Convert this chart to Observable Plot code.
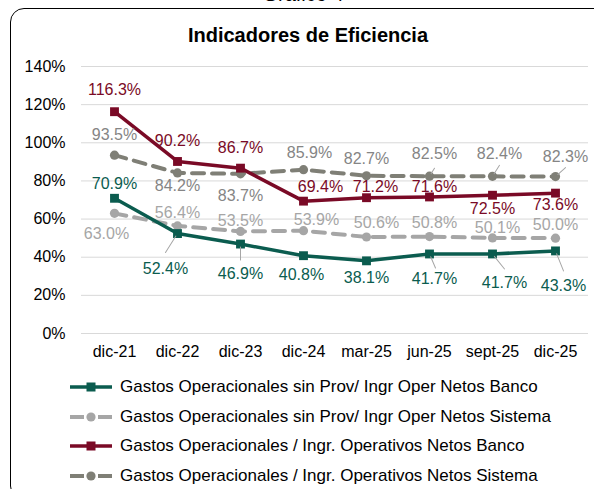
<!DOCTYPE html>
<html>
<head>
<meta charset="utf-8">
<script src="https://cdn.jsdelivr.net/npm/d3@7"></script>
<script src="https://cdn.jsdelivr.net/npm/@observablehq/plot@0.6"></script>
<style>
  html, body { margin: 0; padding: 0; background: #fff; }
  #wrap { position: relative; width: 594px; height: 489px; overflow: hidden; background: #fff;
          font-family: "Liberation Sans", Arial, sans-serif; color: #000; }
  #gtitle { position: absolute; top: -16px; left: 0; width: 606px; text-align: center; font-size: 20px; line-height: 1; }
  #box { position: absolute; left: 10px; top: 8px; width: 600px; height: 490px; border: 1.5px solid #000; border-radius: 14px; }
  #title { position: absolute; top: 25px; left: 0; width: 616px; text-align: center; font-size: 20px; font-weight: bold; line-height: 1; }
  #chart { position: absolute; left: 0; top: 0; }
  .lg { position: absolute; left: 70px; height: 20px; display: flex; align-items: center; font-size: 17px; line-height: 20px; white-space: nowrap; }
  .lg svg { margin-right: 7px; }
</style>
</head>
<body>
<div id="wrap">
  <div id="gtitle">Gráfico 4</div>
  <div id="box"></div>
  <div id="title">Indicadores de Eficiencia</div>
  <div id="chart"></div>
  <div id="legend"></div>
</div>
<script>
// ---- data ----
const categories = ["dic-21", "dic-22", "dic-23", "dic-24", "mar-25", "jun-25", "sept-25", "dic-25"];
const yTicks = [0, 20, 40, 60, 80, 100, 120, 140];

const sinProvBanco   = [70.9, 52.4, 46.9, 40.8, 38.1, 41.7, 41.7, 43.3];
const sinProvSistema = [63.0, 56.4, 53.5, 53.9, 50.6, 50.8, 50.1, 50.0];
const opsBanco       = [116.3, 90.2, 86.7, 69.4, 71.2, 71.6, 72.5, 73.6];
const opsSistema     = [93.5, 84.2, 83.7, 85.9, 82.7, 82.5, 82.4, 82.3];

const seriesNames = [
  "Gastos Operacionales sin Prov/ Ingr Oper Netos Banco",
  "Gastos Operacionales sin Prov/ Ingr Oper Netos Sistema",
  "Gastos Operacionales / Ingr. Operativos Netos Banco",
  "Gastos Operacionales / Ingr. Operativos Netos Sistema"
];

// ---- styling (positions of labels in px, relative to each point) ----
const labelOffsets = [
  [[0,-14],[-12,35],[0,30],[-2,19],[0,17],[5,25],[12,29],[8,35]],
  [[-8,21],[0,-13],[0,-11],[13,-11],[10,-14],[5,-14],[5,-10],[0,-13]],
  [[0,-22],[0,-21],[0,-20],[17,-14],[9,-11],[5,-10],[0,14],[0,12]],
  [[0,-20],[0,13],[0,22],[6,-17],[0,-17],[5,-22],[7,-22],[10,-20]]
];
// leader lines: [seriesIndex, pointIndex, dx, dy]
const leaders = [
  [0,1,-12,19],[0,2,0,16],[0,5,6,14],[0,6,12,15],[0,7,8,20],
  [3,5,5,-8],[3,6,7,-11],[3,7,10,-9]
];
const styles = [
  {stroke: "#0B5C4F", text: "#0B5C4F", width: 3.5, dash: null, symbol: "square"},
  {stroke: "#A6A6A6", text: "#A6A6A6", width: 4, dash: "12,8", symbol: "circle"},
  {stroke: "#7A0A26", text: "#7A0A26", width: 3.5, dash: null, symbol: "square"},
  {stroke: "#7F7F76", text: "#858585", width: 4, dash: "12,8", symbol: "circle"}
];

const allSeries = [sinProvBanco, sinProvSistema, opsBanco, opsSistema];
const rows = allSeries.map((vals, s) => vals.map((v, i) => ({cat: categories[i], value: v, s, i})));

const marks = [
  Plot.gridY(yTicks, {stroke: "#D9D9D9", strokeOpacity: 1, strokeWidth: 1})
];
// draw order: sistema ops, sin prov sistema, banco ops, sin prov banco
const order = [3, 1, 2, 0];
for (const s of order) {
  const st = styles[s];
  marks.push(Plot.line(rows[s], {x: "cat", y: "value", stroke: st.stroke, strokeWidth: st.width,
    strokeDasharray: st.dash || undefined, strokeLinejoin: "round"}));
}
for (const s of order) {
  const st = styles[s];
  marks.push(Plot.dot(rows[s], {x: "cat", y: "value", fill: st.stroke, stroke: "none",
    symbol: st.symbol, r: st.symbol === "square" ? 5 : 4.6}));
}
for (const [s, i, dx, dy] of leaders) {
  const len = Math.hypot(dx, dy);
  const ang = Math.atan2(dx, -dy) * 180 / Math.PI;
  marks.push(Plot.vector([rows[s][i]], {x: "cat", y: "value", length: len, rotate: ang, anchor: "start",
    stroke: "#A6A6A6", strokeWidth: 1,
    shape: {draw(ctx, l) { ctx.moveTo(0, -3); ctx.lineTo(0, -l); }}}));
}
for (let s = 0; s < 4; s++) {
  rows[s].forEach((d, i) => {
    const [dx, dy] = labelOffsets[s][i];
    marks.push(Plot.text([d], {x: "cat", y: "value", text: t => t.value.toFixed(1) + "%",
      dx, dy, fill: styles[s].text, fontSize: 16, textAnchor: "middle", lineAnchor: "middle"}));
  });
}

const chart = Plot.plot({
  width: 594, height: 365,
  marginLeft: 81, marginRight: 6, marginTop: 66, marginBottom: 32,
  style: {fontFamily: "'Liberation Sans', Arial, sans-serif", fontSize: "16px", color: "#000", background: "transparent", overflow: "visible"},
  x: {type: "point", domain: categories, padding: 0.5, label: null, tickSize: 0, tickPadding: 12},
  y: {domain: [0, 140], ticks: yTicks, tickFormat: d => d + "%", label: null, tickSize: 0, tickPadding: 16},
  marks
});
document.getElementById("chart").appendChild(chart);

// ---- legend ----
const legend = document.getElementById("legend");
const rowCenters = [387, 416.5, 446, 475.5];
const legendOrder = [0, 1, 2, 3];
legendOrder.forEach((s, k) => {
  const st = styles[s];
  const div = document.createElement("div");
  div.className = "lg";
  div.style.top = (rowCenters[k] - 10) + "px";
  const ns = "http://www.w3.org/2000/svg";
  const svg = document.createElementNS(ns, "svg");
  svg.setAttribute("width", 43); svg.setAttribute("height", 14);
  if (st.dash) {
    for (const [a, b] of [[0, 14], [28, 42]]) {
      const l = document.createElementNS(ns, "line");
      l.setAttribute("x1", a); l.setAttribute("x2", b); l.setAttribute("y1", 7); l.setAttribute("y2", 7);
      l.setAttribute("stroke", st.stroke); l.setAttribute("stroke-width", st.width);
      svg.appendChild(l);
    }
    const c = document.createElementNS(ns, "circle");
    c.setAttribute("cx", 21); c.setAttribute("cy", 7); c.setAttribute("r", 4.6); c.setAttribute("fill", st.stroke);
    svg.appendChild(c);
  } else {
    const l = document.createElementNS(ns, "line");
    l.setAttribute("x1", 0); l.setAttribute("x2", 42); l.setAttribute("y1", 7); l.setAttribute("y2", 7);
    l.setAttribute("stroke", st.stroke); l.setAttribute("stroke-width", st.width);
    svg.appendChild(l);
    const r = document.createElementNS(ns, "rect");
    r.setAttribute("x", 16.5); r.setAttribute("y", 2.5); r.setAttribute("width", 9); r.setAttribute("height", 9);
    r.setAttribute("fill", st.stroke);
    svg.appendChild(r);
  }
  div.appendChild(svg);
  const span = document.createElement("span");
  span.textContent = seriesNames[s];
  div.appendChild(span);
  legend.appendChild(div);
});
</script>
</body>
</html>
